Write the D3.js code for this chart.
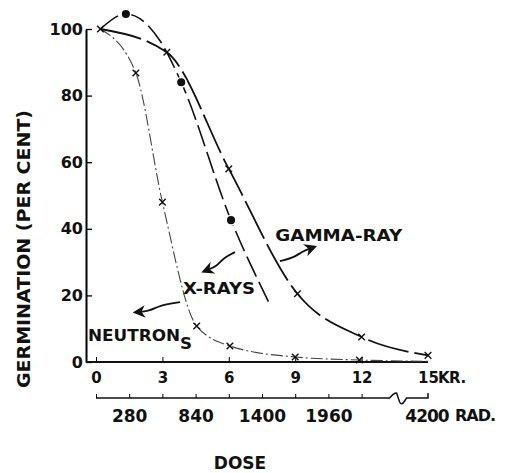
<!DOCTYPE html>
<html>
<head>
<meta charset="utf-8">
<script src="https://cdn.jsdelivr.net/npm/d3@7"></script>
<style>
  body { margin: 0; background: #fff; }
  text { font-family: "DejaVu Sans", "Liberation Sans", sans-serif; font-weight: bold; fill: #111; }
</style>
</head>
<body>
<div id="chart"></div>
<script>
// Data (dose in KR, germination in per cent)
const gammaDose = [0.2, 3.2, 6.0, 9.1, 12.0, 15.0];
const gammaGerm = [100, 93, 58, 20.5, 7.5, 2];

const xrayDose = [0.2, 1.35, 2.9, 3.85, 6.1, 7.8];
const xrayGerm = [100, 104.5, 96.4, 84, 42.6, 18];
const xrayCircles = [1, 3, 4];   // which x-ray points carry a dot

const neutronDose = [0.2, 1.8, 3.0, 4.55, 6.05, 9.0, 11.9, 15.0];
const neutronGerm = [100, 86.8, 48, 10.8, 4.8, 1.5, 0.6, 0.2];
const neutronCrosses = [1, 2, 3, 4, 5, 6];

const yTicks = [0, 20, 40, 60, 80, 100];
const krTicks = [0, 3, 6, 9, 12, 15];
const radTicks = d3.range(0, 2241, 280);
const radLabels = [280, 840, 1400, 1960];

function drawChart() {
    const width = 524;
    const height = 473;

    const svg = d3.select('#chart')
        .append('svg')
        .attr('width', width)
        .attr('height', height);

    const x = d3.scaleLinear().domain([0, 15]).range([96, 428]);
    const y = d3.scaleLinear().domain([0, 100]).range([362, 29]);
    // rad scale shares the page position with kr up to the break
    const rad = d3.scaleLinear().domain([0, 2240]).range([x(0), x(12)]);

    const axisX = 86;

    // Y axis, ticks point inward
    svg.append('g')
        .attr('transform', `translate(${axisX},0)`)
        .call(d3.axisLeft(y).tickValues(yTicks).tickSize(-6).tickSizeOuter(0).tickPadding(3))
        .call(g => g.select('.domain').attr('stroke-width', 2))
        .call(g => g.selectAll('line').attr('stroke-width', 1.3))
        .call(g => g.selectAll('text').attr('font-size', 16).attr('font-family', null).attr('fill', null));

    // KR axis
    svg.append('line')
        .attr('x1', axisX).attr('x2', x(15))
        .attr('y1', y(0)).attr('y2', y(0))
        .attr('stroke', '#111').attr('stroke-width', 2);

    svg.append('g')
        .attr('transform', `translate(0,${y(0)})`)
        .call(d3.axisBottom(x).tickValues(krTicks).tickSize(-5).tickPadding(10))
        .call(g => g.select('.domain').remove())
        .call(g => g.selectAll('.tick').filter(d => d === 15).select('line').remove())
        .call(g => g.selectAll('text').attr('font-size', 15).attr('font-family', null).attr('fill', null));

    svg.append('text')
        .attr('x', x(15) + 10)
        .attr('y', y(0) + 10)
        .attr('dy', '0.71em')
        .attr('font-size', 15)
        .attr('letter-spacing', -0.5)
        .text('KR.');

    // RAD axis with a break before the last value
    const radY = 398;
    const breakStart = rad(2240) + 28;
    svg.append('path')
        .attr('d', `M${rad(0)},${radY}H${breakStart}` +
            `q4,-5 7,-5 l3,9 q2,4 5,-1 l2,-3 H${x(15)} v-5`)
        .attr('fill', 'none').attr('stroke', '#111').attr('stroke-width', 1.5);

    svg.append('g')
        .attr('transform', `translate(0,${radY})`)
        .call(d3.axisBottom(rad).tickValues(radTicks).tickSize(-4)
            .tickFormat(d => radLabels.includes(d) ? d : '').tickPadding(12))
        .call(g => g.select('.domain').remove())
        .call(g => g.selectAll('text').attr('font-size', 17).attr('font-family', null).attr('fill', null));

    svg.append('text')
        .attr('x', x(15) - 1)
        .attr('y', radY + 12)
        .attr('dy', '0.71em')
        .attr('text-anchor', 'middle')
        .attr('font-size', 17)
        .attr('letter-spacing', -1)
        .text('4200');

    svg.append('text')
        .attr('x', x(15) + 27)
        .attr('y', radY + 12)
        .attr('dy', '0.71em')
        .attr('font-size', 16)
        .attr('letter-spacing', -1)
        .text('RAD.');

    // Axis titles
    svg.append('text')
        .attr('x', 240)
        .attr('y', 469)
        .attr('text-anchor', 'middle')
        .attr('font-size', 17)
        .text('DOSE');

    svg.append('text')
        .attr('transform', 'translate(30,249) rotate(-90)')
        .attr('text-anchor', 'middle')
        .attr('font-size', 17)
        .attr('textLength', 278)
        .attr('lengthAdjust', 'spacingAndGlyphs')
        .text('GERMINATION (PER CENT)');

    // Curves
    const line = d3.line()
        .x(d => x(d[0]))
        .y(d => y(d[1]))
        .curve(d3.curveMonotoneX);

    const series = [
        { dose: neutronDose, germ: neutronGerm, dash: '12,3,2,3', width: 1.1, color: '#444' },
        { dose: xrayDose, germ: xrayGerm, dash: '22,6', width: 1.6, color: '#111' },
        { dose: gammaDose, germ: gammaGerm, dash: '42,6', width: 1.8, color: '#111' }
    ];

    svg.append('g')
        .selectAll('path')
        .data(series)
        .join('path')
            .attr('d', s => line(d3.zip(s.dose, s.germ)))
            .attr('fill', 'none')
            .attr('stroke', s => s.color)
            .attr('stroke-width', s => s.width)
            .attr('stroke-dasharray', s => s.dash);

    // Cross markers
    const crosses = d3.zip(gammaDose, gammaGerm)
        .concat(neutronCrosses.map(i => [neutronDose[i], neutronGerm[i]]));

    const cross = d3.symbol().type(d3.symbolX).size(30);

    svg.append('g')
        .selectAll('path')
        .data(crosses)
        .join('path')
            .attr('transform', d => `translate(${x(d[0])},${y(d[1])})`)
            .attr('d', cross)
            .attr('fill', 'none')
            .attr('stroke', '#111')
            .attr('stroke-width', 1.4);

    // Dots on the x-ray curve
    svg.append('g')
        .selectAll('circle')
        .data(xrayCircles.map(i => [xrayDose[i], xrayGerm[i]]))
        .join('circle')
            .attr('cx', d => x(d[0]))
            .attr('cy', d => y(d[1]))
            .attr('r', 4.8)
            .attr('fill', '#111')
            .attr('stroke', '#fff')
            .attr('stroke-width', 1.5);

    // Labels with curly arrows
    svg.append('defs').append('marker')
        .attr('id', 'head')
        .attr('viewBox', '0 0 10 10')
        .attr('refX', 5).attr('refY', 5)
        .attr('markerWidth', 7).attr('markerHeight', 7)
        .attr('orient', 'auto')
        .append('path')
            .attr('d', 'M0,0L10,5L0,10L3,5Z')
            .attr('fill', '#111');

    const labels = [
        { text: 'GAMMA-RAY', at: [8.1, 36.4], len: 127 },
        { text: 'X-RAYS', at: [3.93, 20.4], len: 72 },
        { text: 'NEUTRON', at: [-0.36, 6.3], len: 92 },
        { text: 'S', at: [3.8, 3.9], len: 12 }
    ];

    svg.append('g')
        .selectAll('text')
        .data(labels)
        .join('text')
            .attr('x', d => x(d.at[0]))
            .attr('y', d => y(d.at[1]))
            .attr('font-size', 16)
            .attr('textLength', d => d.len)
            .attr('lengthAdjust', 'spacingAndGlyphs')
            .text(d => d.text);

    const arrows = [
        [[8.31, 30.3], [8.9, 31.2], [9.35, 33.3], [9.72, 34.2]],
        [[6.28, 33.0], [5.74, 31.2], [5.47, 28.8], [5.02, 27.6]],
        [[3.8, 18.0], [2.89, 17.1], [2.44, 15.3], [1.94, 15.0]]
    ];

    const arrowLine = d3.line()
        .x(d => x(d[0]))
        .y(d => y(d[1]))
        .curve(d3.curveBasis);

    svg.append('g')
        .selectAll('path')
        .data(arrows)
        .join('path')
            .attr('d', arrowLine)
            .attr('fill', 'none')
            .attr('stroke', '#111')
            .attr('stroke-width', 1.8)
            .attr('marker-end', 'url(#head)');

    return svg.node();
}

drawChart();
</script>
</body>
</html>
